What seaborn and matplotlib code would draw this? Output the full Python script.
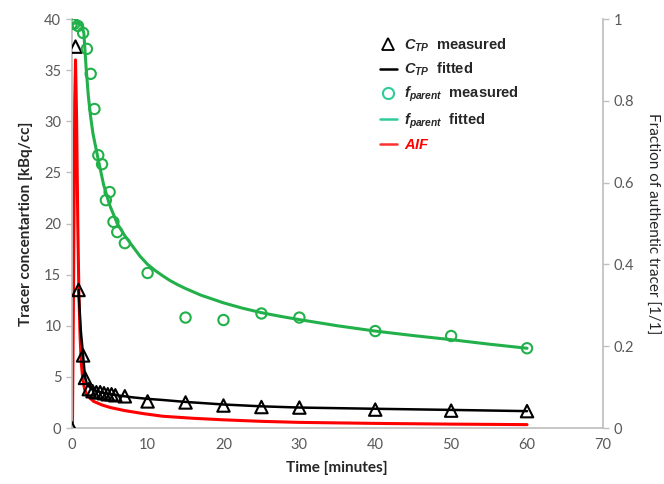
import numpy as np
import pandas as pd
import matplotlib
matplotlib.use("Agg")
import matplotlib.pyplot as plt
import seaborn as sns
from matplotlib.lines import Line2D
from matplotlib.ticker import FuncFormatter

# measured total plasma concentration (triangles)
ctp_time = [0, 0.5, 0.9, 1.5, 1.75, 2.25, 2.75, 3.25, 3.75, 4.25, 4.75, 5.25, 5.75,
            7, 10, 15, 20, 25, 30, 40, 50, 60]
ctp_meas = [0, 37.3, 13.5, 7.1, 4.9, 3.8, 3.6, 3.5, 3.5, 3.4, 3.3, 3.3, 3.2,
            3.1, 2.6, 2.5, 2.2, 2.05, 2.0, 1.8, 1.7, 1.65]

# fitted C_TP curve
ctp_fit_time = [0.9, 1.2, 1.5, 1.75, 2.0, 2.5, 3, 4, 5, 6, 7, 8, 10, 12, 15, 20, 25, 30, 40, 50, 60]
ctp_fit = [13.5, 9.5, 7.1, 5.0, 4.3, 3.9, 3.7, 3.45, 3.3, 3.2, 3.1, 3.0, 2.85, 2.74, 2.55,
           2.3, 2.12, 2.0, 1.88, 1.77, 1.65]

# measured parent fraction (circles, right axis)
fp_time = [0, 0.33, 0.83, 1.5, 2.0, 2.5, 3.0, 3.5, 4.0, 4.5, 5.0, 5.5, 6.0, 7.0,
           10, 15, 20, 25, 30, 40, 50, 60]
fp_meas = [0.988, 0.988, 0.983, 0.966, 0.927, 0.866, 0.78, 0.667, 0.645, 0.557, 0.577,
           0.504, 0.479, 0.452, 0.379, 0.27, 0.264, 0.28, 0.27, 0.237, 0.225, 0.195]

# fitted parent fraction
fp_fit_time = [0, 1.0, 1.3, 1.6, 1.9, 2.2, 2.5, 2.8, 3.4, 4.2, 5, 6, 7, 8, 9, 10, 11, 12,
               13, 14, 15, 17, 20, 22.5, 25, 27.5, 30, 35, 40, 45, 50, 55, 60]
fp_fit = [0.99, 0.99, 0.985, 0.966, 0.88, 0.81, 0.76, 0.72, 0.665, 0.595, 0.545, 0.50,
          0.47, 0.445, 0.42, 0.40, 0.385, 0.372, 0.36, 0.35, 0.341, 0.325, 0.306, 0.293,
          0.282, 0.273, 0.265, 0.25, 0.237, 0.226, 0.216, 0.205, 0.195]

# arterial input function
aif_time = [0, 0.1, 0.25, 0.4, 0.5, 0.65, 0.8, 0.95, 1.1, 1.25, 1.45, 1.7, 2.0, 2.9, 4,
            5.1, 7, 9.5, 12, 16, 20, 25, 30, 40, 50, 60]
aif = [0, 0.5, 15, 32, 36, 30, 20, 13, 9, 6.5, 4.8, 3.8, 3.2, 2.6, 2.25, 2.0, 1.7, 1.4,
       1.15, 0.95, 0.8, 0.65, 0.55, 0.45, 0.38, 0.33]

green = "#22b04b"
legend_green = "#2ecc9a"
grey_txt = "#595959"
spine_col = "#bfbfbf"

sns.set_theme(style="white")
plt.rcParams["font.family"] = ["Lato", "DejaVu Sans"]
plt.rcParams["mathtext.fontset"] = "custom"
plt.rcParams["mathtext.bf"] = "Liberation Sans:bold"
plt.rcParams["mathtext.bfit"] = "Liberation Sans:bold:italic"
plt.rcParams["mathtext.it"] = "Liberation Sans:italic"

fig = plt.figure(figsize=(6.64, 4.84), dpi=100)
ax = fig.add_axes([0.108, 0.1157, 0.8, 0.845])
ax2 = ax.twinx()

sns.lineplot(x=aif_time, y=aif, ax=ax, color="#ff0000", lw=2.2, sort=False)
sns.lineplot(x=ctp_fit_time, y=ctp_fit, ax=ax, color="black", lw=1.8)
sns.scatterplot(x=ctp_time, y=ctp_meas, ax=ax, marker="^", s=80,
                facecolor="none", edgecolor="black", linewidth=1.5, zorder=5)
sns.lineplot(x=fp_fit_time, y=fp_fit, ax=ax2, color=green, lw=2.2)
sns.scatterplot(x=fp_time, y=fp_meas, ax=ax2, marker="o", s=55,
                facecolor="none", edgecolor=green, linewidth=1.5, zorder=5)

ax.set_xlim(0, 70)
ax.set_ylim(0, 40)
ax2.set_ylim(0, 1)
ax.set_xticks(range(0, 71, 10))
ax.set_yticks(range(0, 41, 5))
ax2.set_yticks([0, 0.2, 0.4, 0.6, 0.8, 1.0])
ax2.yaxis.set_major_formatter(FuncFormatter(lambda v, p: f"{v:g}"))

for a in (ax, ax2):
    a.tick_params(colors=spine_col, labelcolor=grey_txt, labelsize=10.5, length=4, width=1,
                  direction="out")
    for s in a.spines.values():
        s.set_color(spine_col)
    a.spines["top"].set_visible(False)
ax.spines["right"].set_visible(False)
ax2.spines["left"].set_visible(False)
ax2.spines["bottom"].set_visible(False)

ax.set_xlabel("Time [minutes]", fontsize=11, fontweight="bold", color="#262626", labelpad=6)
ax.set_ylabel("Tracer concentartion [kBq/cc]", fontsize=11, fontweight="bold",
              color="#262626", labelpad=8)
ax2.set_ylabel("Fraction of authentic tracer [1/1]", fontsize=11, color="#262626",
               rotation=270, labelpad=18)

handles = [
    Line2D([], [], ls="none", marker="^", ms=9, mfc="none", mec="black", mew=1.3),
    Line2D([], [], color="black", lw=1.8),
    Line2D([], [], ls="none", marker="o", ms=8, mfc="none", mec=legend_green, mew=1.5),
    Line2D([], [], color=legend_green, lw=1.8),
    Line2D([], [], color="#ff3030", lw=1.8),
]
labels = [
    r"$\mathbfit{C}_{\mathbfit{TP}}$  measured",
    r"$\mathbfit{C}_{\mathbfit{TP}}$  fitted",
    r"$\mathbfit{f}_{\mathbfit{parent}}$  measured",
    r"$\mathbfit{f}_{\mathbfit{parent}}$  fitted",
    r"$\mathbfit{AIF}$",
]
leg = ax2.legend(handles, labels, loc="upper left", bbox_to_anchor=(0.555, 0.99),
                 frameon=False, handlelength=1.2, handletextpad=0.5, labelspacing=0.48,
                 prop={"family": "Liberation Sans", "weight": "bold", "size": 10.5})
for t in leg.get_texts():
    t.set_color("#262626")
leg.get_texts()[-1].set_color("#ff0000")

plt.savefig("out.png", dpi=100)
